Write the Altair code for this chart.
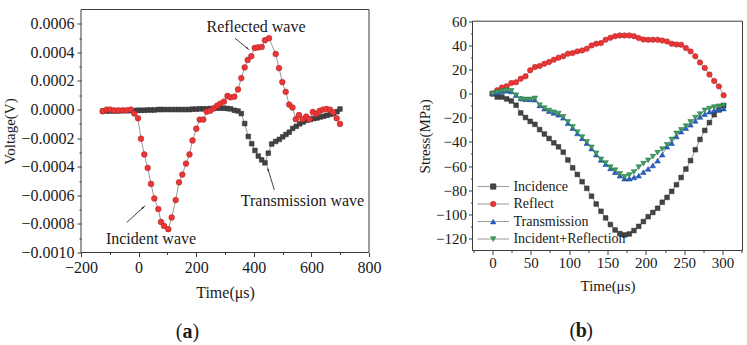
import altair as alt
import pandas as pd

FONT = "Liberation Serif, Times New Roman, serif"
INK = "#1a1a1a"
FRAME = "#3c3c3c"
LINE = "#8c8c8c"

# ---------------- panel (a) : voltage signals ----------------
a_red_time = [-124.7, -110.8, -99.3, -85.4, -70.5, -55.2, -41.3, -27.4, -14.9, -2.1,
              8.3, 19.8, 31.6, 43.1, 54.5, 68.4, 77.8, 88.2, 103.1, 114.9,
              128.8, 140.3, 151.7, 164.6, 176.7, 187.2, 200.3, 212.2, 224.7, 236.5,
              249.0, 260.8, 272.2, 283.7, 296.5, 308.7, 319.1, 332.3, 345.1, 356.6,
              368.4, 378.8, 391.3, 403.1, 414.6, 427.4, 438.9, 452.8, 476.0, 487.5,
              499.0, 510.8, 522.9, 534.4, 545.8, 556.9, 569.1, 581.9, 593.4, 604.9,
              616.7, 628.1, 640.3, 652.4, 664.6, 675.0, 687.8, 699.3]
a_red_volt = [-0.000012, 0.0, 0.0, -0.000005, -0.000005, -0.000005, -0.000005, 0.0, -0.000028, -0.000061,
              -0.000204, -0.000314, -0.000408, -0.000520, -0.000622, -0.000696, -0.000786, -0.000814, -0.000837, -0.000755,
              -0.000633, -0.000509, -0.000455, -0.000378, -0.000314, -0.000216, -0.000134, -0.000070, -0.000070, -0.000015,
              -0.000008, 0.000009, 0.000027, 0.000041, 0.000056, 0.000095, 0.000086, 0.000090, 0.000141, 0.000220,
              0.000295, 0.000347, 0.000373, 0.000431, 0.000435, 0.000438, 0.000485, 0.000499, 0.000389, 0.000290,
              0.000192, 0.000124, 0.000035, 0.000014, -0.000067, -0.000038, -0.000067, -0.000049, -0.000067, -0.000017,
              -0.000031, -0.000010, 0.0, 0.000004, -0.000001, -0.000019, -0.000061, -0.000101]

a_gray_time = [-124.7, -110.8, -99.3, -85.4, -70.5, -55.2, -41.3, -27.4, -14.9, -2.1,
               8.3, 19.8, 31.6, 43.1, 54.5, 68.4, 77.8, 88.2, 103.1, 114.9,
               128.8, 140.3, 151.7, 164.6, 176.7, 187.2, 200.3, 212.2, 224.7, 236.5,
               249.0, 260.8, 272.2, 283.7, 296.5, 308.7, 319.1, 332.3, 345.1,
               356.6, 368.4, 380.9, 392.7, 404.0, 415.6, 427.4, 438.9, 450.3, 462.0,
               476.0, 488.5, 500.3, 511.8, 523.3, 535.0, 547.6, 559.4, 571.5, 583.7,
               595.8, 607.6, 619.4, 630.9, 642.7, 654.2, 666.0, 677.4, 688.9, 699.3]
a_gray_volt = [-0.000010, -0.000010, -0.000010, -0.000010, -0.000010, -0.000008, -0.000008, -0.000008, -0.000007, -0.000005,
               -0.000005, -0.000005, -0.000003, -0.000003, -0.000003, 0.0, 0.0, 0.0, 0.0, 0.0,
               0.0, 0.0, 0.0, 0.0, 0.0, 0.000003, 0.000003, 0.000005, 0.000005, 0.000005,
               0.000007, 0.000007, 0.000010, 0.000010, 0.000010, 0.000007, 0.000005, -0.000005, -0.000010,
               -0.000028, -0.000098, -0.000188, -0.000239, -0.000286, -0.000325, -0.000352, -0.000373, -0.000305, -0.000241,
               -0.000223, -0.000209, -0.000191, -0.000174, -0.000158, -0.000132, -0.000117, -0.000100, -0.000087, -0.000075,
               -0.000070, -0.000063, -0.000059, -0.000052, -0.000047, -0.000040, -0.000033, -0.000028, -0.000015, 0.000004]

a_xticks = [-200, 0, 200, 400, 600, 800]
a_xminor = [-100, 100, 300, 500, 700]
a_yticks = [-0.0010, -0.0008, -0.0006, -0.0004, -0.0002, 0.0, 0.0002, 0.0004, 0.0006]
a_yminor = [-0.0009, -0.0007, -0.0005, -0.0003, -0.0001, 0.0001, 0.0003, 0.0005]

a_notes = ["Reflected wave", "Transmission wave", "Incident wave"]
a_note_t = [407.6, 569.1, 43.1]
a_note_v = [0.000579, -0.000638, -0.000909]
a_arrow_t1 = [334.7, 471.2, -41.3]
a_arrow_v1 = [0.000499, -0.000562, -0.000790]
a_arrow_t2 = [378.0, 449.5, 16.0]
a_arrow_v2 = [0.000428, -0.000418, -0.000685]
a_arrow_angle = [129.6, 343.3, 47.2]

# ---------------- panel (b) : stresses ----------------
b_time = [0.0, 6.2, 12.3, 18.5, 24.6, 30.8, 36.9, 43.1, 49.2, 55.4,
          61.5, 67.7, 73.8, 80.0, 86.1, 92.3, 98.4, 104.6, 110.7, 116.9,
          123.0, 129.2, 135.3, 141.5, 147.6, 153.8, 159.9, 166.1, 172.2, 178.4,
          184.5, 190.7, 196.8, 203.0, 209.1, 215.3, 221.4, 227.6, 233.7, 239.9,
          246.0, 252.2, 258.3, 264.5, 270.6, 276.8, 282.9, 289.1, 295.2, 301.4]
b_incidence = [0.0, -2.8, -2.8, -4.4, -6.1, -9.6, -16.0, -19.8, -23.0, -25.5,
               -29.8, -33.5, -37.2, -40.8, -44.1, -48.5, -55.0, -61.5, -67.0, -73.0,
               -78.5, -85.0, -91.5, -97.5, -103.0, -108.5, -113.0, -116.0, -117.1, -116.3,
               -113.5, -110.0, -106.0, -102.0, -98.5, -95.0, -90.0, -86.0, -81.0, -75.5,
               -69.5, -62.5, -55.5, -46.5, -38.0, -30.5, -24.0, -17.5, -13.5, -10.0]
b_reflect = [0.0, 2.8, 5.0, 6.1, 8.8, 9.4, 12.4, 14.3, 19.3, 22.0,
             22.9, 24.8, 26.2, 28.1, 29.8, 30.9, 33.1, 33.6, 35.0, 35.8,
             37.2, 39.9, 41.3, 41.9, 44.6, 46.3, 47.6, 48.2, 48.2, 48.2,
             47.6, 46.0, 44.8, 44.6, 44.6, 44.6, 44.0, 43.2, 41.3, 40.7,
             40.5, 37.7, 35.0, 31.0, 25.8, 21.3, 15.8, 10.5, 6.0, -1.4]
b_transmission = [0.0, 0.8, 1.8, 2.4, 1.8, -1.2, -4.0, -4.6, -4.8, -5.0,
                  -9.8, -12.5, -14.5, -16.0, -17.5, -20.0, -24.5, -28.5, -33.0, -37.0,
                  -41.0, -45.5, -50.5, -55.0, -58.5, -62.0, -65.0, -68.0, -70.5, -70.5,
                  -69.5, -68.0, -65.0, -62.3, -59.5, -55.5, -50.5, -44.0, -41.0, -35.5,
                  -31.5, -28.5, -25.8, -22.5, -19.3, -17.0, -15.0, -13.8, -13.2, -12.4]
b_inc_ref = [0.0, 1.0, 2.2, 2.8, 2.2, -1.4, -4.5, -5.0, -4.8, -4.0,
             -9.6, -12.0, -14.0, -15.5, -16.5, -19.3, -23.5, -27.5, -32.0, -36.0,
             -40.0, -44.5, -49.5, -54.5, -57.5, -61.0, -63.5, -66.5, -69.0, -67.5,
             -65.0, -61.0, -58.0, -55.3, -52.3, -49.0, -46.0, -42.5, -38.0, -33.0,
             -30.0, -27.0, -23.5, -19.8, -17.0, -13.8, -12.4, -11.2, -10.5, -9.8]

b_xticks = [0, 50, 100, 150, 200, 250, 300]
b_xminor = [-25, 25, 75, 125, 175, 225, 275, 325]
b_yticks = [-120, -100, -80, -60, -40, -20, 0, 20, 40, 60]
b_yminor = [-110, -90, -70, -50, -30, -10, 10, 30, 50]

b_names = ["Incidence", "Reflect", "Transmission", "Incident+Reflection"]
b_shapes = ["square", "circle", "triangle-up", "triangle-down"]
b_fills = ["#444444", "#ee3535", "#1f63d8", "#35a35f"]
b_strokes = ["#2a2a2a", "#a02626", "#1d3f80", "#256b40"]
b_sizes = [22, 30, 30, 30]
b_leg_y = [-77.0, -91.5, -106.0, -120.5]
b_leg_line = [-19.6, 21.6]
b_leg_mark = 1.0
b_leg_text = 27.4

a_red_style = ("circle", "#ee3535", "#a02626", 33)
a_gray_style = ("square", "#444444", "#2a2a2a", 22)

# plot boxes (pixels): panel a 288 x 243; panel b 270 wide, frame from 11.7 to 241
A_W, A_H = 288, 243
B_W, B_H, B_TOP = 270, 241, 11.7


def axis(orient, values, title=None, fmt=None, lsize=16, tsize=16, lpad=3, tpad=4,
         labels=True, tick=4):
    kw = dict(orient=orient, values=values, grid=False, domain=False,
              tickSize=tick, tickColor=FRAME, tickWidth=1,
              labels=labels, labelFont=FONT, labelFontSize=lsize, labelColor=INK,
              labelPadding=lpad, labelFlush=False, labelOverlap=False,
              titleFont=FONT, titleFontSize=tsize, titleFontWeight="normal",
              titleColor=INK, titlePadding=tpad, title=title)
    if fmt:
        kw["format"] = fmt
    return alt.Axis(**kw)


def series(df, xs, ys, style, xaxis=None, yaxis=None):
    shape, fill, stroke, size = style
    enc = dict(x=alt.X("t:Q", scale=xs, axis=xaxis), y=alt.Y("v:Q", scale=ys, axis=yaxis))
    line = alt.Chart(df).mark_line(color=LINE, strokeWidth=0.9).encode(**enc)
    enc2 = dict(x=alt.X("t:Q", scale=xs, axis=None), y=alt.Y("v:Q", scale=ys, axis=None))
    pts = alt.Chart(df).mark_point(shape=shape, filled=True, fill=fill, stroke=stroke,
                                   strokeWidth=0.5, size=size, opacity=1).encode(**enc2)
    return [line, pts]


def caption(letter, cx, cy):
    one = pd.DataFrame({"k": [0]})
    left = alt.Chart(one).mark_text(text="(", font=FONT, fontSize=20, align="right",
                                    baseline="middle", color=INK).encode(
        x=alt.value(cx - 5), y=alt.value(cy))
    mid = alt.Chart(one).mark_text(text=letter, font=FONT, fontSize=20, fontWeight="bold",
                                   align="center", baseline="middle", color=INK).encode(
        x=alt.value(cx), y=alt.value(cy))
    right = alt.Chart(one).mark_text(text=")", font=FONT, fontSize=20, align="left",
                                     baseline="middle", color=INK).encode(
        x=alt.value(cx + 5), y=alt.value(cy))
    return [left, mid, right]


def frame(x1, x2, y1, y2):
    one = pd.DataFrame({"k": [0]})
    return alt.Chart(one).mark_rect(fillOpacity=0, stroke=FRAME, strokeWidth=1).encode(
        x=alt.value(x1), x2=alt.value(x2), y=alt.value(y1), y2=alt.value(y2))


def spacer(x, y1, y2):
    one = pd.DataFrame({"k": [0]})
    return alt.Chart(one).mark_rule(strokeOpacity=0).encode(
        x=alt.value(x), y=alt.value(y1), y2=alt.value(y2))


# ---------------- build panel (a) ----------------
a_xs = alt.Scale(domain=[-200, 800], nice=False, zero=False)
a_ys = alt.Scale(domain=[-0.001, 0.0007], nice=False, zero=False)
dfa_red = pd.DataFrame({"t": a_red_time, "v": a_red_volt})
dfa_gray = pd.DataFrame({"t": a_gray_time, "v": a_gray_volt})

a_layers = [frame(0, A_W, 0, A_H)]
a_layers += series(dfa_gray, a_xs, a_ys, a_gray_style,
                   xaxis=axis("bottom", a_xticks, "Time(μs)", lpad=3, tpad=9),
                   yaxis=axis("left", a_yticks, "Voltage(V)", fmt=".4f", tsize=15, lpad=3, tpad=3))
a_layers += series(dfa_red, a_xs, a_ys, a_red_style)

dfa_arrow = pd.DataFrame({"t": a_arrow_t1, "v": a_arrow_v1, "t2": a_arrow_t2,
                          "v2": a_arrow_v2, "ang": a_arrow_angle})
a_layers.append(alt.Chart(dfa_arrow).mark_rule(color="#111111", strokeWidth=0.8).encode(
    x=alt.X("t:Q", scale=a_xs, axis=None), y=alt.Y("v:Q", scale=a_ys, axis=None),
    x2="t2:Q", y2="v2:Q"))
a_layers.append(alt.Chart(dfa_arrow).mark_point(shape="wedge", filled=True, color="#111111",
                                                size=35, opacity=1).encode(
    x=alt.X("t2:Q", scale=a_xs, axis=None), y=alt.Y("v2:Q", scale=a_ys, axis=None),
    angle=alt.Angle("ang:Q", scale=None)))
dfa_notes = pd.DataFrame({"t": a_note_t, "v": a_note_v, "label": a_notes})
a_layers.append(alt.Chart(dfa_notes).mark_text(font=FONT, fontSize=16, color=INK,
                                               align="center", baseline="middle").encode(
    x=alt.X("t:Q", scale=a_xs, axis=None), y=alt.Y("v:Q", scale=a_ys, axis=None),
    text="label:N"))
a_layers.append(alt.Chart(dfa_gray).mark_point(opacity=0).encode(
    x=alt.X("t:Q", scale=a_xs, axis=axis("bottom", a_xminor, None, labels=False, tick=2)),
    y=alt.Y("v:Q", scale=a_ys, axis=axis("left", a_yminor, None, labels=False, tick=2))))
a_layers += caption("a", 106.5, 322)
a_layers.append(spacer(-81, 0, 10))
a_layers.append(spacer(303, 0, 10))

panel_a = alt.layer(*a_layers).resolve_axis(x="independent", y="independent").properties(
    width=A_W, height=A_H)

# ---------------- build panel (b) ----------------
b_xs = alt.Scale(domain=[-26, 326], nice=False, zero=False)
b_ys = alt.Scale(domain=[-130, 60], range=[B_H, B_TOP], nice=False, zero=False)
b_values = [b_incidence, b_reflect, b_transmission, b_inc_ref]

b_layers = [frame(0, B_W, B_TOP, B_H)]
for i, vals in enumerate(b_values):
    df = pd.DataFrame({"t": b_time, "v": vals})
    style = (b_shapes[i], b_fills[i], b_strokes[i], b_sizes[i])
    if i == 0:
        b_layers += series(df, b_xs, b_ys, style,
                           xaxis=axis("bottom", b_xticks, "Time(μs)", lsize=15, tsize=15, lpad=1, tpad=8),
                           yaxis=axis("left", b_yticks, "Stress(MPa)", lsize=15, tsize=15, lpad=2, tpad=3))
    else:
        b_layers += series(df, b_xs, b_ys, style)

dfl = pd.DataFrame({"name": b_names, "shp": b_shapes, "fc": b_fills, "sc": b_strokes,
                    "ly": b_leg_y, "lx1": [b_leg_line[0]] * 4, "lx2": [b_leg_line[1]] * 4,
                    "mx": [b_leg_mark] * 4, "tx": [b_leg_text] * 4})
b_layers.append(alt.Chart(dfl).mark_rule(color=LINE, strokeWidth=0.9).encode(
    x=alt.X("lx1:Q", scale=b_xs, axis=None), x2="lx2:Q",
    y=alt.Y("ly:Q", scale=b_ys, axis=None)))
b_layers.append(alt.Chart(dfl).mark_point(filled=True, size=30, strokeWidth=0.5, opacity=1).encode(
    x=alt.X("mx:Q", scale=b_xs, axis=None), y=alt.Y("ly:Q", scale=b_ys, axis=None),
    shape=alt.Shape("shp:N", scale=None), fill=alt.Fill("fc:N", scale=None),
    stroke=alt.Stroke("sc:N", scale=None)))
b_layers.append(alt.Chart(dfl).mark_text(font=FONT, fontSize=14, color=INK, align="left",
                                         baseline="middle").encode(
    x=alt.X("tx:Q", scale=b_xs, axis=None), y=alt.Y("ly:Q", scale=b_ys, axis=None),
    text="name:N"))
b_layers.append(alt.Chart(pd.DataFrame({"t": b_time, "v": b_incidence})).mark_point(opacity=0).encode(
    x=alt.X("t:Q", scale=b_xs, axis=axis("bottom", b_xminor, None, labels=False, tick=2)),
    y=alt.Y("v:Q", scale=b_ys, axis=axis("left", b_yminor, None, labels=False, tick=2))))
b_layers += caption("b", 108.7, 321)
b_layers.append(spacer(-62, 0, 10))

panel_b = alt.layer(*b_layers).resolve_axis(x="independent", y="independent").properties(
    width=B_W, height=B_H)

chart = alt.hconcat(panel_a, panel_b, spacing=26.5).properties(
    padding={"left": 0, "top": 8.5, "right": 0, "bottom": 0}
).configure(background="#ffffff").configure_view(strokeWidth=0)

chart.save("out.html", embed_options={"renderer": "svg", "actions": False})
